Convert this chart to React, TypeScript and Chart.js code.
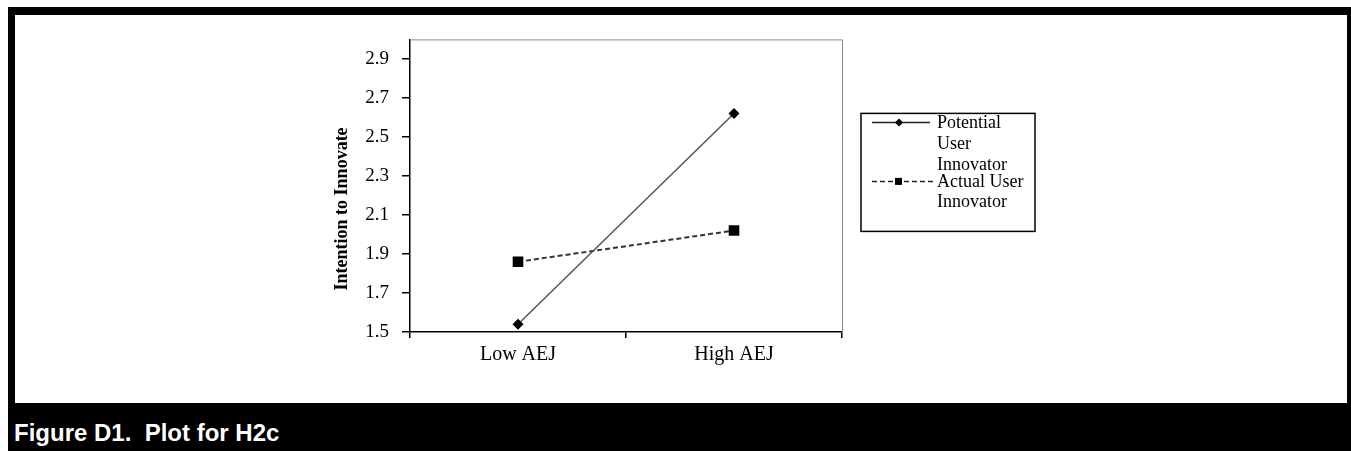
import React, { useEffect, useRef } from "react";
import { Chart, registerables } from "chart.js";

Chart.register(...registerables);

// ---- data ----
const categories = ["Low AEJ", "High AEJ"];
const potentialUser = [1.54, 2.62];
const actualUser = [1.86, 2.02];
const yTickValues = [1.5, 1.7, 1.9, 2.1, 2.3, 2.5, 2.7, 2.9];
const yMin = 1.5;
const yMax = 3.0;
const yTitle = "Intention to Innovate";
const legendPotential = ["Potential", "User", "Innovator"];
const legendActual = ["Actual User", "Innovator"];
const caption = "Figure D1.  Plot for H2c";

const SERIF = "'Liberation Serif', 'Times New Roman', serif";

const extrasPlugin = {
  id: "extras",
  afterDraw(chart: any) {
    const { ctx, chartArea: a } = chart;
    ctx.save();
    // top and right frame of the plot area
    ctx.strokeStyle = "#8c8c8c";
    ctx.lineWidth = 1;
    ctx.beginPath();
    ctx.moveTo(a.left, a.top + 0.5);
    ctx.lineTo(a.right + 0.5, a.top + 0.5);
    ctx.lineTo(a.right + 0.5, a.bottom);
    ctx.stroke();
    ctx.restore();

    // y axis title
    ctx.save();
    ctx.translate(a.left - 63, a.top + 169.5);
    ctx.rotate(-Math.PI / 2);
    ctx.font = `bold 18px ${SERIF}`;
    ctx.fillStyle = "#000";
    ctx.textAlign = "center";
    ctx.textBaseline = "alphabetic";
    ctx.fillText(yTitle, 0, 0);
    ctx.restore();

    // legend
    ctx.save();
    const bx = a.right + 19;
    const by = a.top + 74;
    ctx.strokeStyle = "#000";
    ctx.lineWidth = 1.5;
    ctx.strokeRect(bx, by, 174, 118);

    // potential: solid line + diamond
    const ly1 = a.top + 83;
    ctx.strokeStyle = "#222";
    ctx.lineWidth = 1.5;
    ctx.setLineDash([]);
    ctx.beginPath();
    ctx.moveTo(a.right + 30, ly1);
    ctx.lineTo(a.right + 88, ly1);
    ctx.stroke();
    ctx.fillStyle = "#000";
    const dx = a.right + 57;
    const r = 4;
    ctx.beginPath();
    ctx.moveTo(dx, ly1 - r);
    ctx.lineTo(dx + r, ly1);
    ctx.lineTo(dx, ly1 + r);
    ctx.lineTo(dx - r, ly1);
    ctx.closePath();
    ctx.fill();

    // actual: dashed line + square
    const ly2 = a.top + 142;
    ctx.strokeStyle = "#222";
    ctx.lineWidth = 1.5;
    ctx.setLineDash([5, 3]);
    ctx.beginPath();
    ctx.moveTo(a.right + 30, ly2);
    ctx.lineTo(a.right + 91, ly2);
    ctx.stroke();
    ctx.setLineDash([]);
    ctx.fillRect(a.right + 53, ly2 - 3.5, 7, 7);

    // legend text
    ctx.font = `18px ${SERIF}`;
    ctx.fillStyle = "#000";
    ctx.textAlign = "left";
    ctx.textBaseline = "alphabetic";
    const tx = a.right + 95;
    const pBase = [89, 110, 131];
    legendPotential.forEach((t, i) => ctx.fillText(t, tx, a.top + pBase[i]));
    const aBase = [148, 168];
    legendActual.forEach((t, i) => ctx.fillText(t, tx, a.top + aBase[i]));
    ctx.restore();
  },
};

export default function App() {
  const canvasRef = useRef<HTMLCanvasElement | null>(null);

  useEffect(() => {
    if (!canvasRef.current) return;
    const chart = new Chart(canvasRef.current, {
      type: "line",
      data: {
        labels: categories,
        datasets: [
          {
            label: "Potential User Innovator",
            data: potentialUser,
            borderColor: "#555",
            borderWidth: 1.5,
            pointStyle: "rectRot",
            pointRadius: 5.5,
            pointBackgroundColor: "#000",
            pointBorderColor: "#000",
            pointBorderWidth: 0,
            tension: 0,
          },
          {
            label: "Actual User Innovator",
            data: actualUser,
            borderColor: "#333",
            borderWidth: 2,
            borderDash: [5, 3],
            pointStyle: "rect",
            pointRadius: 7.5,
            pointBackgroundColor: "#000",
            pointBorderColor: "#000",
            pointBorderWidth: 0,
            tension: 0,
          },
        ],
      },
      options: {
        responsive: false,
        animation: false,
        layout: { padding: { left: 335, top: 24, right: 505, bottom: 31 } },
        plugins: {
          legend: { display: false },
          tooltip: { enabled: false },
        },
        scales: {
          x: {
            type: "category",
            offset: true,
            afterFit: (s: any) => {
              s.height = 40;
            },
            ticks: {
              color: "#000",
              font: { family: SERIF, size: 20 },
              padding: 5,
            },
            grid: {
              offset: true,
              drawOnChartArea: false,
              drawTicks: true,
              tickLength: 6,
              color: "#000",
              lineWidth: 1.5,
            },
            border: { display: true, color: "#000", width: 1.5 },
          },
          y: {
            type: "linear",
            min: yMin,
            max: yMax,
            afterBuildTicks: (s: any) => {
              s.ticks = yTickValues.map((v) => ({ value: v }));
            },
            afterFit: (s: any) => {
              s.width = 60;
            },
            ticks: {
              color: "#000",
              font: { family: SERIF, size: 19 },
              padding: 13,
              callback: (v: any) => Number(v).toFixed(1),
            },
            grid: {
              drawOnChartArea: false,
              drawTicks: true,
              tickLength: 8,
              color: "#000",
              lineWidth: 1.5,
            },
            border: { display: true, color: "#000", width: 1.5 },
          },
        },
      },
      plugins: [extrasPlugin],
    });
    return () => chart.destroy();
  }, []);

  return (
    <div
      style={{
        position: "absolute",
        left: 8,
        top: 7,
        width: 1343,
        height: 444,
        background: "#000",
      }}
    >
      <div
        style={{
          position: "absolute",
          left: 7,
          top: 8,
          width: 1332,
          height: 388,
          background: "#fff",
        }}
      >
        <canvas
          ref={canvasRef}
          width={1332}
          height={388}
          style={{ display: "block", width: 1332, height: 388 }}
        />
      </div>
      <div
        style={{
          position: "absolute",
          left: 6,
          top: 414,
          color: "#fff",
          fontFamily: "'Liberation Sans', Arial, sans-serif",
          fontWeight: "bold",
          fontSize: 24,
          lineHeight: "24px",
          whiteSpace: "pre",
        }}
      >
        {caption}
      </div>
    </div>
  );
}
